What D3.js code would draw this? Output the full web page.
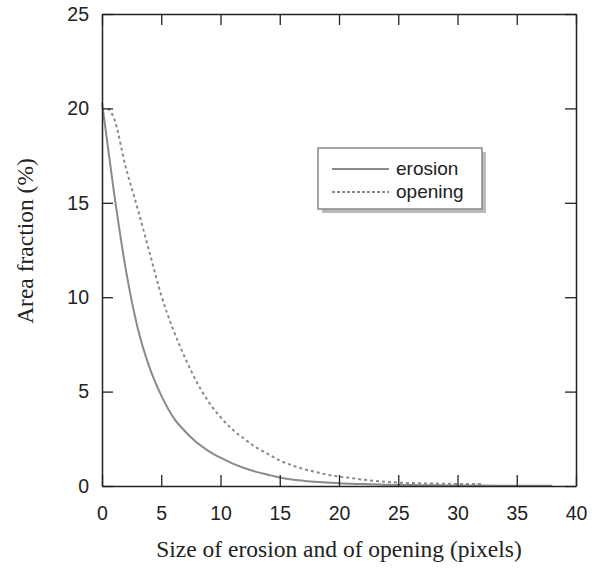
<!DOCTYPE html>
<html>
<head>
<meta charset="utf-8">
<script src="https://cdn.jsdelivr.net/npm/d3@7"></script>
<style>
  body { margin: 0; background: #fff; }
</style>
</head>
<body>
<div id="container"></div>
<script>
// erosion curve: size (pixels) -> area fraction (%)
let erosionX = [0,1,2,3,4,5,6,7,8,9,10,11,12,13,14,15,16,17,18,19,20,22,24,26,28,30,32,34,36,38]
let erosionY = [20.3,15.6,11.5,8.4,6.3,4.8,3.65,2.9,2.3,1.85,1.5,1.2,0.95,0.75,0.6,0.45,0.35,0.28,0.22,0.18,0.14,0.1,0.07,0.05,0.04,0.03,0.02,0.015,0.01,0.01]
// opening curve
let openingX = [0.5,1,2,3,4,5,6,7,8,9,10,11,12,13,14,15,16,17,18,19,20,21,22,23,24,25,26,28,30,32]
let openingY = [20.0,19.5,16.9,14.7,12.4,10.1,8.3,6.8,5.5,4.45,3.65,3.0,2.5,2.05,1.7,1.35,1.1,0.9,0.75,0.6,0.5,0.42,0.34,0.27,0.22,0.18,0.16,0.13,0.11,0.1]

let xTicks = [0,5,10,15,20,25,30,35,40]
let yTicks = [0,5,10,15,20,25]
let seriesNames = ['erosion', 'opening']

let width = 595, height = 570
let margin = {left: 102, right: 19, top: 14, bottom: 84}
let tickLen = 11

let svg = d3.select('#container').append('svg')
            .attr('width', width)
            .attr('height', height)

let x = d3.scaleLinear().domain([0, 40]).range([margin.left, width - margin.right])
let y = d3.scaleLinear().domain([0, 25]).range([height - margin.bottom, margin.top])

let axisColor = '#222'
let lineColor = '#8a8a8a'
let sansFont = '"Liberation Sans", Arial, sans-serif'
let serifFont = '"Liberation Serif", "Times New Roman", serif'

// curves
let line = d3.line().x(d => x(d[0])).y(d => y(d[1])).curve(d3.curveMonotoneX)
let erosion = erosionX.map((v, i) => [v, erosionY[i]])
let opening = openingX.map((v, i) => [v, openingY[i]])

svg.append('path').datum(erosion)
   .attr('d', line)
   .attr('fill', 'none')
   .attr('stroke', lineColor)
   .attr('stroke-width', 2)

svg.append('path').datum(opening)
   .attr('d', line)
   .attr('fill', 'none')
   .attr('stroke', lineColor)
   .attr('stroke-width', 2)
   .attr('stroke-dasharray', '3,3')

// axes, ticks inward on all four sides
function styleAxis(g) {
  g.select('.domain').attr('stroke', axisColor).attr('stroke-width', 1.5)
  g.selectAll('.tick line').attr('stroke', axisColor).attr('stroke-width', 1.3)
  g.selectAll('.tick text').attr('fill', '#222')
    .style('font-family', sansFont)
    .style('font-size', '19.5px')
}

svg.append('g')
   .attr('transform', 'translate(0,' + y(0) + ')')
   .call(d3.axisBottom(x).tickValues(xTicks).tickSizeInner(-tickLen).tickSizeOuter(0).tickPadding(20))
   .call(styleAxis)

svg.append('g')
   .attr('transform', 'translate(0,' + y(25) + ')')
   .call(d3.axisTop(x).tickValues(xTicks).tickSizeInner(-tickLen).tickSizeOuter(0).tickFormat(''))
   .call(styleAxis)

svg.append('g')
   .attr('transform', 'translate(' + x(0) + ',0)')
   .call(d3.axisLeft(y).tickValues(yTicks).tickSizeInner(-tickLen).tickSizeOuter(0).tickPadding(13))
   .call(styleAxis)

svg.append('g')
   .attr('transform', 'translate(' + x(40) + ',0)')
   .call(d3.axisRight(y).tickValues(yTicks).tickSizeInner(-tickLen).tickSizeOuter(0).tickFormat(''))
   .call(styleAxis)

// axis titles
svg.append('text')
   .attr('x', (x(0) + x(40)) / 2)
   .attr('y', 557)
   .attr('text-anchor', 'middle')
   .style('font-family', serifFont)
   .style('font-size', '23.5px')
   .attr('fill', '#222')
   .text('Size of erosion and of opening (pixels)')

svg.append('text')
   .attr('transform', 'translate(33,241) rotate(-90)')
   .attr('text-anchor', 'middle')
   .style('font-family', serifFont)
   .style('font-size', '23.5px')
   .attr('fill', '#222')
   .text('Area fraction (%)')

// legend with drop shadow
let lg = svg.append('g').attr('transform', 'translate(318,148)')
lg.append('rect')
  .attr('x', 4).attr('y', 4)
  .attr('width', 164).attr('height', 61)
  .attr('fill', '#bbb')
lg.append('rect')
  .attr('width', 164).attr('height', 61)
  .attr('fill', '#fff')
  .attr('stroke', '#888')
  .attr('stroke-width', 1.5)

seriesNames.forEach((name, i) => {
  let yy = 21 + i * 23
  lg.append('line')
    .attr('x1', 14).attr('x2', 71)
    .attr('y1', yy).attr('y2', yy)
    .attr('stroke', lineColor)
    .attr('stroke-width', 2)
    .attr('stroke-dasharray', i === 1 ? '3,2' : null)
  lg.append('text')
    .attr('x', 78).attr('y', yy + 6)
    .style('font-family', sansFont)
    .style('font-size', '19px')
    .attr('fill', '#222')
    .text(name)
})
</script>
</body>
</html>
